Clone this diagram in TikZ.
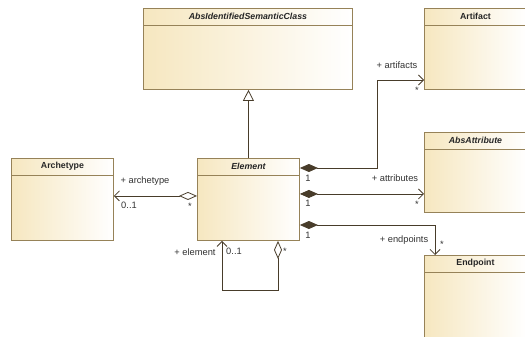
\documentclass[tikz,border=0pt]{standalone}
\usepackage{fontspec}
\setmainfont{Liberation Sans}
\usetikzlibrary{arrows.meta}
\definecolor{classtan}{RGB}{246,231,192}
\definecolor{classborder}{RGB}{150,130,88}
\definecolor{wire}{RGB}{72,60,42}
\definecolor{labelgray}{RGB}{50,50,50}
\tikzset{
  x=1pt, y=-1pt,
  classbox/.style={draw=classborder, line width=0.9pt, left color=classtan, right color=white,
    shading angle=90, minimum width=102pt, minimum height=81pt, inner sep=0pt, anchor=north west},
  classname/.style={font=\fontsize{8.8}{10}\selectfont\bfseries, text=black!85},
  absname/.style={classname, font=\fontsize{8.8}{10}\selectfont\bfseries\itshape},
  rolelabel/.style={font=\fontsize{9.3}{10}\selectfont, text=labelgray, inner sep=0pt},
  manylabel/.style={rolelabel, yshift=-3pt},
  wireline/.style={draw=wire, line width=0.8pt},
  composition/.style={arrows={Diamond[length=18pt,width=8pt,fill=wire]-Straight Barb[length=5pt,width=10pt,line width=0.8pt]}},
  aggregation/.style={arrows={Diamond[open,length=18pt,width=8pt,fill=white]-Straight Barb[length=5pt,width=10pt,line width=0.8pt]}},
  generalization/.style={-{Triangle[open,length=11pt,width=11pt,fill=white]}},
}
\newcommand{\headerline}[1]{\draw[classborder, line width=0.7pt] ([yshift=-17pt]#1.north west) -- ([yshift=-17pt]#1.north east);}
\begin{document}
\begin{tikzpicture}
\useasboundingbox (0,0) rectangle (525,337);
\clip (0,0) rectangle (525,337);

% classes
\node[classbox, minimum width=209pt] (abs) at (143,8) {};
\node[classbox] (art) at (424,8) {};
\node[classbox, minimum height=80pt] (attr) at (424,132) {};
\node[classbox, minimum height=82pt] (elem) at (197,158) {};
\node[classbox, minimum height=82pt] (arche) at (11,158) {};
\node[classbox, minimum height=82pt] (endp) at (424,255) {};

\foreach \c in {abs,art,attr,elem,arche,endp} {\headerline{\c}}

\node[absname] (absT) at ([yshift=-8.5pt]abs.north) {AbsIdentifiedSemanticClass};
\node[classname] (artT) at ([yshift=-8.5pt]art.north) {Artifact};
\node[absname] (attrT) at ([yshift=-8.5pt]attr.north) {AbsAttribute};
\node[absname] (elemT) at ([yshift=-8.5pt]elem.north) {Element};
\node[classname] (archeT) at ([yshift=-8.5pt]arche.north) {Archetype};
\node[classname] (endpT) at ([yshift=-8.5pt]endp.north) {Endpoint};

% generalization
\draw[wireline, generalization] (elem.north) -- (elem.north |- abs.south);

% archetype association
\draw[wireline, aggregation] ([yshift=3.5pt]elem.west) -- ([yshift=3.5pt]elem.west -| arche.east);

% artifacts composition
\coordinate (artBendLow) at (377,168);
\coordinate (artBendHigh) at (377,80);
\draw[wireline, composition] (elem.east |- artBendLow) -- (artBendLow) -- (artBendHigh) -- (artBendHigh -| art.west);

% attributes composition
\draw[wireline, composition] ([yshift=5.5pt]elem.east) -- ([yshift=5.5pt]elem.east -| attr.west);

% endpoints composition
\coordinate (endBend) at (435,225);
\draw[wireline, composition] (elem.east |- endBend) -- (endBend) -- (endBend |- endp.north);

% self association
\coordinate (loopL) at (222,290);
\coordinate (loopR) at (278,290);
\draw[wireline, aggregation] (loopR |- elem.south) -- (loopR) -- (loopL) -- (loopL |- elem.south);

% role labels and multiplicities
\node[rolelabel] (l1) at (145,181) {+ archetype};
\node[rolelabel] (l2) at (129,205) {0..1};
\node[manylabel] (l3) at (190,203) {*};
\node[rolelabel] (l4) at (397,65) {+ artifacts};
\node[manylabel] (l5) at (417,87) {*};
\node[rolelabel] (l6) at (308,178) {1};
\node[rolelabel] (l7) at (395,178) {+ attributes};
\node[rolelabel] (l8) at (308,203) {1};
\node[manylabel] (l9) at (417,201) {*};
\node[rolelabel] (l10) at (308,235) {1};
\node[rolelabel] (l11) at (404,240) {+ endpoints};
\node[manylabel] (l12) at (442,241) {*};
\node[rolelabel] (l13) at (195,252) {+ element};
\node[rolelabel] (l14) at (234,251) {0..1};
\node[manylabel] (l15) at (285,248) {*};
\end{tikzpicture}
\end{document}
